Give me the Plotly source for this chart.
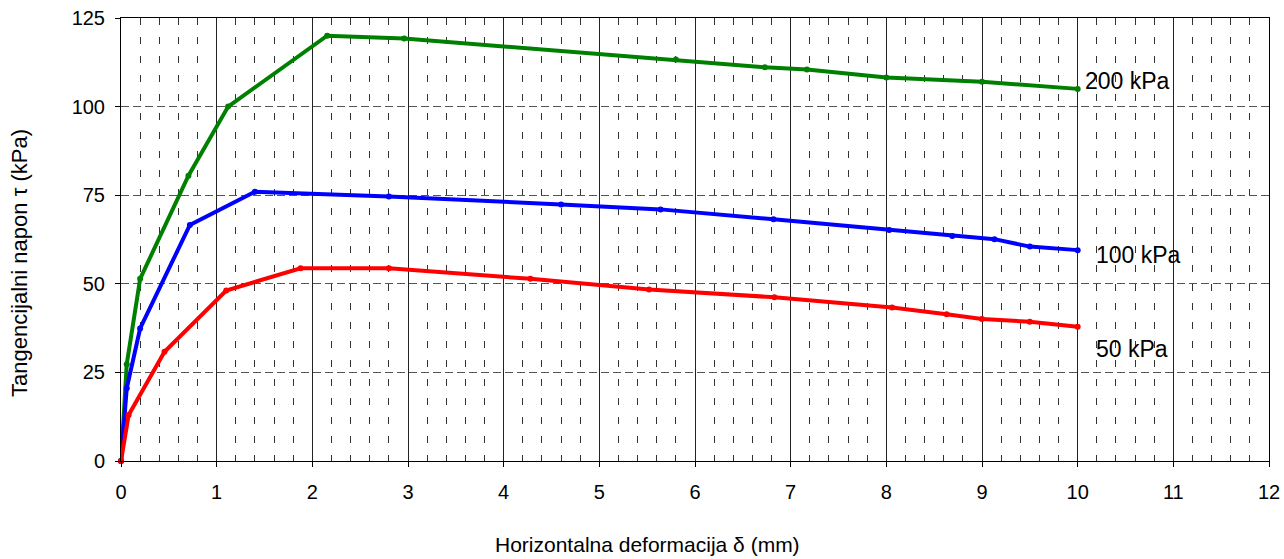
import plotly.graph_objects as go

# Direct shear test: shear stress vs horizontal displacement
x_200 = [0, 0.06, 0.2, 0.705, 1.12, 2.155, 2.96, 5.8, 6.73, 7.17, 8.0, 9.0, 10.0]
y_200 = [0, 27.3, 51.4, 80.5, 100, 120, 119.2, 113.3, 111.1, 110.5, 108.2, 107, 105]

x_100 = [0, 0.06, 0.2, 0.72, 1.4, 2.8, 4.6, 5.64, 6.82, 8.03, 8.69, 9.13, 9.5, 10.0]
y_100 = [0, 20.5, 37.4, 66.6, 76, 74.6, 72.4, 71.0, 68.2, 65.2, 63.5, 62.6, 60.5, 59.5]

x_50 = [0, 0.08, 0.455, 1.1, 1.877, 2.8, 4.28, 5.52, 6.83, 8.06, 8.63, 9.0, 9.5, 10.0]
y_50 = [0, 13, 30.8, 48.1, 54.4, 54.4, 51.4, 48.4, 46.2, 43.3, 41.4, 40.1, 39.3, 37.9]

series_names = ["200 kPa", "100 kPa", "50 kPa"]
series_colors = ["#008000", "#0000FF", "#FF0000"]
label_pos = [(10.06, 107.1), (10.17, 58.1), (10.17, 31.6)]

x_title = "Horizontalna deformacija δ (mm)"
y_title = "Tangencijalni napon τ (kPa)"

FONT = "Liberation Sans, Arial, sans-serif"

fig = go.Figure()
for xs, ys, name, col in zip([x_200, x_100, x_50], [y_200, y_100, y_50],
                             series_names, series_colors):
    fig.add_trace(go.Scatter(
        x=xs, y=ys, mode="lines+markers", name=name,
        line=dict(color=col, width=4),
        marker=dict(color=col, size=6),
        cliponaxis=False, showlegend=False,
    ))

# curve labels at the end of each series
for name, (lx, ly) in zip(series_names, label_pos):
    fig.add_annotation(x=lx, y=ly, text=name, showarrow=False,
                       xanchor="left", yanchor="middle",
                       font=dict(family=FONT, size=23, color="#000"))

# axis titles
fig.add_annotation(xref="paper", yref="paper", x=0.459, y=-0.189,
                   text=x_title, showarrow=False,
                   xanchor="center", yanchor="middle",
                   font=dict(family=FONT, size=21, color="#000"))
fig.add_annotation(xref="paper", yref="paper", x=-0.088, y=0.447,
                   text=y_title, showarrow=False, textangle=-90,
                   xanchor="center", yanchor="middle",
                   font=dict(family=FONT, size=22, color="#000"))

fig.update_layout(
    width=1284, height=559,
    margin=dict(l=121, r=15, t=18, b=98, autoexpand=False),
    paper_bgcolor="white", plot_bgcolor="white",
    font=dict(family=FONT, size=20, color="#000"),
    xaxis=dict(
        range=[0, 12], dtick=1, tick0=0, automargin=False,
        showline=True, linecolor="#000", linewidth=1, mirror=True,
        ticks="outside", ticklen=5, tickcolor="#000",
        ticklabelstandoff=8,
        showgrid=True, gridcolor="#222", gridwidth=1,
        zeroline=False,
        minor=dict(dtick=0.2, showgrid=True, gridcolor="#333",
                   griddash="7px,12px", gridwidth=1),
    ),
    yaxis=dict(
        range=[0, 125], dtick=25, tick0=0, automargin=False,
        showline=True, linecolor="#000", linewidth=1, mirror=True,
        ticks="outside", ticklen=5, tickcolor="#000",
        ticklabelstandoff=6,
        showgrid=True, gridcolor="#555", gridwidth=1, griddash="8px,4px",
        zeroline=False,
    ),
)

fig.write_html("out.html")
